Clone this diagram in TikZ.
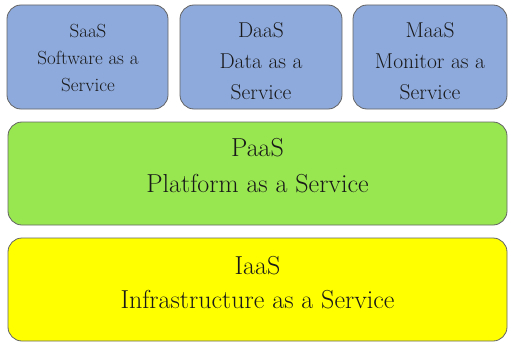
\documentclass[tikz,border=0pt]{standalone}
\usepackage{tikz}
\definecolor{saasblue}{RGB}{142,170,220}
\definecolor{paasgreen}{RGB}{152,230,80}
\definecolor{iaasyellow}{RGB}{255,255,0}
\definecolor{edgegray}{RGB}{100,100,100}
\tikzset{
  layer/.style={draw=edgegray, line width=0.8pt, rounded corners=14pt},
  txt/.style={align=center, text=black!90, inner sep=0pt},
}

\begin{document}
\begin{tikzpicture}[x=1pt, y=-1pt]

  \useasboundingbox (0,0) rectangle (510,342);

  \newcommand\Top{5};
  \newcommand\Bot{109};

  % top row: the three services
  \draw[layer, fill=saasblue] (7, \Top) rectangle (168, \Bot);
  \node[txt, font=\fontsize{19}{27}\selectfont] (saas) at (88, 58) {SaaS\\Software as a\\Service};
  \draw[layer, fill=saasblue] (180, \Top) rectangle (342, \Bot);
  \node[txt, font=\fontsize{21.5}{31}\selectfont] (daas) at (261, 61) {DaaS\\Data as a\\Service};
  \draw[layer, fill=saasblue] (353, \Top) rectangle (507, \Bot);
  \node[txt, font=\fontsize{21.5}{31}\selectfont] (maas) at (430, 61) {MaaS\\Monitor as a\\Service};

  % platform layer
  \draw[layer, fill=paasgreen] (8, 122) rectangle (507, 225);
  \node[txt, font=\fontsize{26}{36}\selectfont] (paas) at (257.5, 166) {PaaS\\Platform as a Service};

  % infrastructure layer
  \draw[layer, fill=iaasyellow] (8, 238) rectangle (507, 341);
  \node[txt, font=\fontsize{26}{34}\selectfont] (iaas) at (257.5, 283) {IaaS\\Infrastructure as a Service};

\end{tikzpicture}
\end{document}
